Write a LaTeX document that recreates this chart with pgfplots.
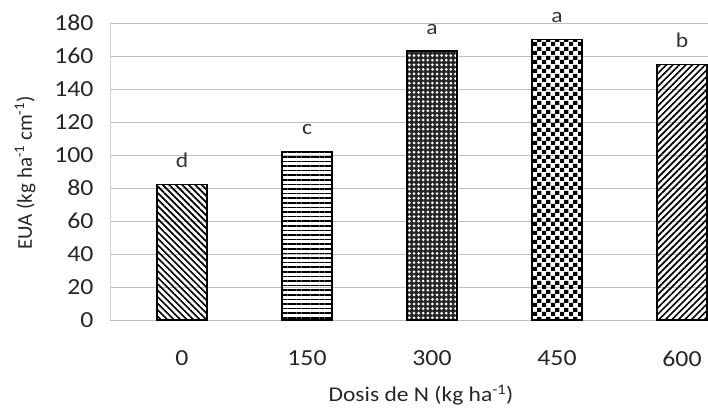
\documentclass[border=0pt]{standalone}
\usepackage{pgfplots}
\pgfplotsset{compat=1.18}
\usepackage{fontspec}
\setmainfont{Carlito}
\newfontfamily\wide{Carlito}[FakeStretch=1.12]
\usetikzlibrary{patterns,patterns.meta}
\pgfdeclarepatternformonly{mycheck}{\pgfpointorigin}{\pgfpoint{8.6pt}{8.6pt}}{\pgfpoint{8.6pt}{8.6pt}}{%
  \pgfpathrectangle{\pgfpointorigin}{\pgfpoint{4.3pt}{4.3pt}}%
  \pgfpathrectangle{\pgfpoint{4.3pt}{4.3pt}}{\pgfpoint{4.3pt}{4.3pt}}%
  \pgfusepath{fill}}
\begin{document}
\begin{tikzpicture}
\useasboundingbox (-110pt,-99pt) rectangle (598pt,320pt);
\begin{axis}[
  at={(0pt,0pt)}, anchor=south west,
  scale only axis, width=598pt, height=297pt,
  xmin=-0.576, xmax=4.208, ymin=0, ymax=180,
  ytick={0,20,...,180},
  xtick={0,1,2,3,4}, xticklabels={0,150,300,450,600},
  major tick length=0pt,
  ymajorgrids, grid style={gray!50, line width=0.7pt},
  axis lines*=left,
  x axis line style={draw=none},
  y axis line style={draw=gray!35, line width=0.6pt},
  clip=false,
  /pgf/number format/assume math mode=true,
  tick label style={font=\wide\fontsize{23}{25}\selectfont, text=black!85},
  yticklabel style={xshift=-13pt},
  xticklabel style={yshift=-27pt},
  xlabel={Dosis de N (kg ha\textsuperscript{-1})},
  ylabel={EUA (kg ha\textsuperscript{-1} cm\textsuperscript{-1})},
  x label style={at={(axis description cs:0.52,-0.252)}, anchor=center, font=\wide\fontsize{21}{23}\selectfont, text=black!85},
  y label style={at={(axis description cs:-0.142,0.495)}, anchor=center, font=\fontsize{21}{23}\selectfont, text=black!85},
  every node near coord/.append style={anchor=base, yshift=17pt, font=\wide\fontsize{21}{23}\selectfont, text=black!80},
]
\addplot[ybar, bar width=0.4, bar shift=0pt, draw=black, line width=1.4pt,
  pattern={Lines[angle=-45, distance=4.6pt, line width=1.7pt]}, pattern color=black,
  nodes near coords={d}] coordinates {(0,82)};
\addplot[ybar, bar width=0.4, bar shift=0pt, draw=black, line width=1.4pt,
  pattern={Lines[angle=0, distance=4.6pt, line width=1.6pt]}, pattern color=black,
  nodes near coords={c}] coordinates {(1,102)};
\addplot[ybar, bar width=0.4, bar shift=0pt, draw=black, line width=1.4pt,
  fill=black!85, postaction={pattern={Dots[radius=1.5pt, distance=4.6pt]}, pattern color=white},
  nodes near coords={a}] coordinates {(2,163)};
\addplot[ybar, bar width=0.4, bar shift=0pt, draw=black, line width=1.4pt,
  pattern=mycheck, pattern color=black,
  nodes near coords={a}] coordinates {(3,170)};
\addplot[ybar, bar width=0.4, bar shift=0pt, draw=black, line width=1.4pt,
  pattern={Lines[angle=45, distance=4.6pt, line width=1.7pt]}, pattern color=black,
  nodes near coords={b}] coordinates {(4,155)};
\end{axis}
\end{tikzpicture}
\end{document}
